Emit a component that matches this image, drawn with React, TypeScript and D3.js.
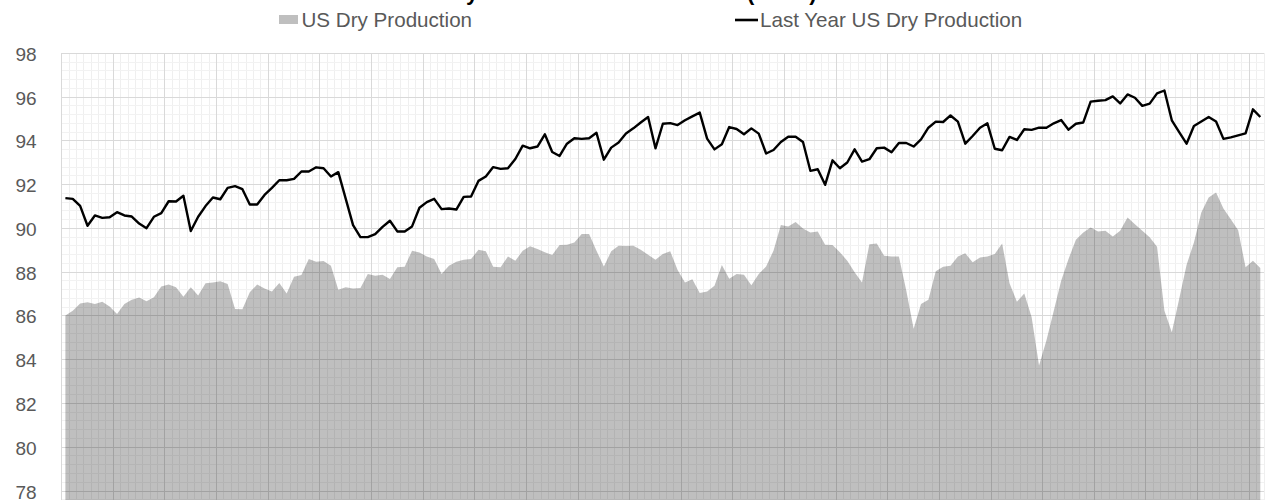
import * as d3 from "d3";

// US dry gas production, daily, this year (grey area) and last year (black line)
const production = [
  86.02, 86.24, 86.57, 86.62, 86.54, 86.65, 86.43, 86.09, 86.54, 86.74,
  86.84, 86.67, 86.85, 87.35, 87.44, 87.31, 86.88, 87.31, 86.93, 87.49,
  87.53, 87.58, 87.46, 86.32, 86.30, 87.08, 87.43, 87.25, 87.12, 87.50,
  87.03, 87.79, 87.87, 88.60, 88.48, 88.51, 88.29, 87.20, 87.31, 87.25,
  87.28, 87.91, 87.84, 87.88, 87.69, 88.22, 88.25, 88.98, 88.90, 88.72,
  88.60, 87.91, 88.29, 88.48, 88.57, 88.60, 89.02, 88.95, 88.25, 88.22,
  88.72, 88.52, 88.98, 89.18, 89.06, 88.91, 88.78, 89.24, 89.25, 89.36,
  89.74, 89.74, 88.98, 88.26, 88.95, 89.21, 89.19, 89.21, 89.02, 88.80,
  88.57, 88.83, 88.95, 88.10, 87.53, 87.67, 87.05, 87.12, 87.38, 88.33,
  87.70, 87.91, 87.88, 87.40, 87.91, 88.26, 88.98, 90.16, 90.09, 90.29,
  90.00, 89.81, 89.86, 89.25, 89.24, 88.91, 88.52, 87.99, 87.53, 89.28,
  89.31, 88.75, 88.71, 88.71, 87.16, 85.41, 86.55, 86.74, 88.04, 88.25,
  88.29, 88.72, 88.86, 88.45, 88.67, 88.71, 88.83, 89.31, 87.49, 86.65,
  87.03, 85.94, 83.74, 84.88, 86.24, 87.61, 88.60, 89.48, 89.81, 90.04,
  89.86, 89.89, 89.63, 89.89, 90.50, 90.19, 89.89, 89.59, 89.16, 86.24,
  85.25, 86.77, 88.33, 89.36, 90.73, 91.41, 91.64, 90.91, 90.42, 89.92,
  88.22, 88.52, 88.19,
];

const lastYear = [
  91.38, 91.35, 91.03, 90.12, 90.59, 90.48, 90.51, 90.74, 90.59, 90.54,
  90.22, 90.01, 90.53, 90.70, 91.24, 91.23, 91.49, 89.88, 90.53, 91.02,
  91.41, 91.33, 91.85, 91.93, 91.79, 91.09, 91.09, 91.53, 91.85, 92.20,
  92.20, 92.26, 92.60, 92.60, 92.79, 92.75, 92.37, 92.57, 91.36, 90.15,
  89.60, 89.60, 89.74, 90.07, 90.35, 89.86, 89.86, 90.09, 90.94, 91.20,
  91.35, 90.88, 90.91, 90.86, 91.44, 91.46, 92.17, 92.37, 92.80, 92.72,
  92.75, 93.17, 93.78, 93.66, 93.74, 94.30, 93.49, 93.31, 93.87, 94.12,
  94.09, 94.12, 94.37, 93.14, 93.69, 93.92, 94.34, 94.57, 94.84, 95.09,
  93.66, 94.78, 94.81, 94.72, 94.94, 95.12, 95.29, 94.10, 93.61, 93.84,
  94.63, 94.54, 94.30, 94.57, 94.33, 93.42, 93.58, 93.95, 94.19, 94.19,
  93.95, 92.63, 92.70, 91.99, 93.11, 92.75, 93.01, 93.61, 93.05, 93.16,
  93.66, 93.69, 93.48, 93.90, 93.90, 93.74, 94.07, 94.60, 94.88, 94.86,
  95.16, 94.88, 93.87, 94.22, 94.60, 94.80, 93.64, 93.57, 94.18, 94.04,
  94.53, 94.50, 94.60, 94.60, 94.80, 94.95, 94.51, 94.78, 94.84, 95.79,
  95.83, 95.86, 96.03, 95.71, 96.12, 95.97, 95.60, 95.70, 96.17, 96.30,
  94.94, 94.40, 93.87, 94.68, 94.88, 95.09, 94.88, 94.09, 94.16, 94.25,
  94.34, 95.44, 95.09,
];

const days = production.map((_, i) => i);
const yTicks = [78, 80, 82, 84, 86, 88, 90, 92, 94, 96, 98];
const seriesNames = ["US Dry Production", "Last Year US Dry Production"];
const title = "US Dry Production vs. Last Year (Bcf/d)";

const font = "'Liberation Sans', Arial, sans-serif";
const textGrey = "#595959";

export default function App() {
  const width = 1268;
  const height = 500;
  const margin = { top: 53.3, right: 4, bottom: 9, left: 61.7 };

  const x = d3
    .scaleBand<number>()
    .domain(days)
    .range([margin.left, width - margin.right])
    .padding(0);
  const y = d3
    .scaleLinear()
    .domain([78, 98])
    .range([height - margin.bottom, margin.top]);

  const cx = (i: number) => (x(i) as number) + x.bandwidth() / 2;
  const floor = 74; // axis runs on below the cropped bottom edge

  const area = d3
    .area<number>()
    .x((_, i) => cx(i))
    .y0(y(floor))
    .y1((d) => y(d));
  const line = d3
    .line<number>()
    .x((_, i) => cx(i))
    .y((d) => y(d));

  // gridlines: one per day, major every 7 days; minor every 0.4 on y
  const xEdges = [...days.map((d) => x(d) as number), x.range()[1]];
  const yMinor = d3.range(0, 61).map((k) => floor + k * 0.4);
  const [x0, x1] = x.range();

  return (
    <svg
      width={width}
      height={height}
      style={{ position: "absolute", left: 0, top: 0, background: "#fff" }}
    >
      <g shapeRendering="crispEdges">
        {xEdges.map((px, k) =>
          k % 7 === 0 ? null : (
            <line key={"vx" + k} x1={px} x2={px} y1={y(98)} y2={y(floor)} stroke="#efefef" />
          )
        )}
        {yMinor.map((v, k) =>
          k % 5 === 0 ? null : (
            <line key={"my" + k} x1={x0} x2={x1} y1={y(v)} y2={y(v)} stroke="#f2f2f2" />
          )
        )}
        {xEdges.map((px, k) =>
          k % 7 === 0 ? (
            <line key={"Vx" + k} x1={px} x2={px} y1={y(98)} y2={y(floor)} stroke="#d9d9d9" />
          ) : null
        )}
        {[76, ...yTicks].map((v) => (
          <line key={"My" + v} x1={x0} x2={x1} y1={y(v)} y2={y(v)} stroke="#d9d9d9" />
        ))}
      </g>

      <path d={area(production) ?? ""} fill="#000" fillOpacity={0.25} />
      <path
        d={line(lastYear) ?? ""}
        fill="none"
        stroke="#000"
        strokeWidth={2.4}
        strokeLinejoin="round"
      />

      {yTicks.map((v) => (
        <text
          key={"t" + v}
          x={36.7}
          y={y(v) + 1}
          textAnchor="end"
          dominantBaseline="central"
          fontFamily={font}
          fontSize={19}
          fill={textGrey}
        >
          {v}
        </text>
      ))}

      <text x={405} y={-0.5} fontFamily={font} fontSize={22} fontWeight="bold" fill="#000">
        {title}
      </text>

      <rect x={279} y={15} width={19} height={9} fill="#000" fillOpacity={0.25} />
      <text x={301.5} y={26.7} fontFamily={font} fontSize={20.6} fill={textGrey}>
        {seriesNames[0]}
      </text>
      <line x1={735} x2={758} y1={20} y2={20} stroke="#000" strokeWidth={2.6} />
      <text x={760} y={26.7} fontFamily={font} fontSize={20.6} fill={textGrey}>
        {seriesNames[1]}
      </text>
    </svg>
  );
}
